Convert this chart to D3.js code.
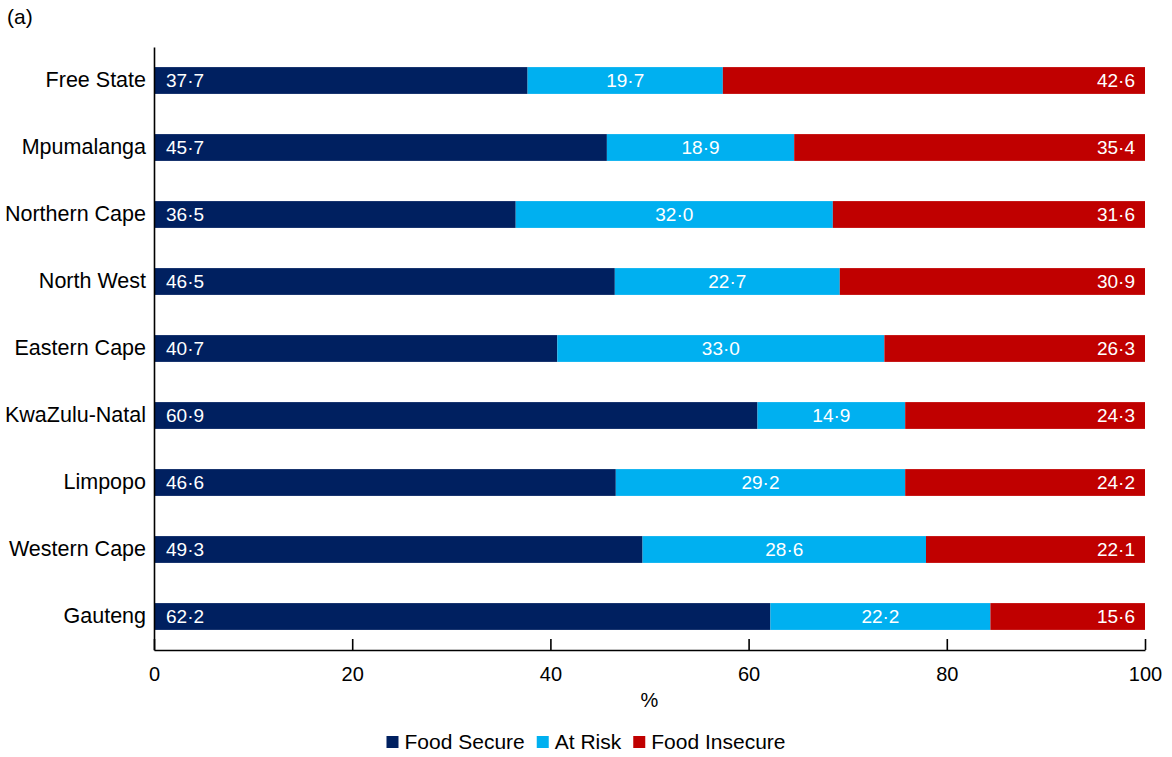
<!DOCTYPE html>
<html>
<head>
<meta charset="utf-8">
<script src="https://cdn.jsdelivr.net/npm/d3@7"></script>
<style>
  body { margin: 0; background: #fff; }
  svg text { font-family: "Liberation Sans", Arial, sans-serif; }
</style>
</head>
<body>
<div id="chart"></div>
<script>
// provinces, top to bottom
const provinces = ["Free State", "Mpumalanga", "Northern Cape", "North West", "Eastern Cape",
                   "KwaZulu-Natal", "Limpopo", "Western Cape", "Gauteng"];
const foodSecure   = [37.7, 45.7, 36.5, 46.5, 40.7, 60.9, 46.6, 49.3, 62.2];
const atRisk       = [19.7, 18.9, 32.0, 22.7, 33.0, 14.9, 29.2, 28.6, 22.2];
const foodInsecure = [42.6, 35.4, 31.6, 30.9, 26.3, 24.3, 24.2, 22.1, 15.6];
const seriesNames  = ["Food Secure", "At Risk", "Food Insecure"];
const xTicks = [0, 20, 40, 60, 80, 100];

const colors = ["#002060", "#00B0F0", "#C00000"];

const W = 1172, H = 757;
const margin = { top: 47, right: 27, bottom: 107, left: 154 },
      width  = W - margin.left - margin.right,
      height = H - margin.top - margin.bottom;

const table = provinces.map((p, i) => ({
    province: p,
    "Food Secure": foodSecure[i],
    "At Risk": atRisk[i],
    "Food Insecure": foodInsecure[i]
}));
const stacked = d3.stack().keys(seriesNames)(table);

const svg = d3.select("#chart").append("svg")
    .attr("width", W).attr("height", H);

svg.append("text")
   .attr("x", 7).attr("y", 24)
   .style("font-size", "21px")
   .text("(a)");

const g = svg.append("g").attr("transform", `translate(${margin.left},${margin.top})`);

const x = d3.scaleLinear().domain([0, 100]).range([0, width]).clamp(true);
const y = d3.scaleBand().domain(provinces).range([0, height]).paddingInner(0.6).paddingOuter(0.3);

// bars
const layer = g.selectAll(".layer")
    .data(stacked)
    .enter().append("g")
    .attr("class", "layer")
    .attr("fill", (d, i) => colors[i]);

layer.selectAll("rect")
    .data(d => d)
    .enter().append("rect")
    .attr("x", d => x(d[0]))
    .attr("y", d => y(d.data.province))
    .attr("width", d => x(d[1]) - x(d[0]))
    .attr("height", y.bandwidth());

// value labels
const fmt = v => d3.format(".1f")(v).replace(".", "\u00B7");
stacked.forEach((s, si) => {
    g.selectAll(".lbl" + si)
     .data(s)
     .enter().append("text")
     .attr("x", d => si === 0 ? x(d[0]) + 12 : si === 2 ? x(d[1]) - 10 : (x(d[0]) + x(d[1])) / 2)
     .attr("y", d => y(d.data.province) + y.bandwidth() / 2)
     .attr("dy", "0.35em")
     .attr("text-anchor", si === 0 ? "start" : si === 2 ? "end" : "middle")
     .attr("fill", "#fff")
     .style("font-size", "19px")
     .text(d => fmt(d[1] - d[0]));
});

// y axis
const yAxis = g.append("g")
   .call(d3.axisLeft(y).tickSize(0).tickPadding(8));
yAxis.select(".domain").attr("stroke", "#000").attr("stroke-width", 1.6);
yAxis.selectAll("text").style("font-size", "21.5px").attr("fill", "#000");

// x axis
const xAxis = g.append("g")
   .attr("transform", `translate(0,${height})`)
   .call(d3.axisBottom(x).tickValues(xTicks).tickSizeInner(-11).tickSizeOuter(0).tickPadding(10));
xAxis.select(".domain").attr("stroke", "#000").attr("stroke-width", 1.6);
xAxis.selectAll(".tick line").attr("stroke", "#000").attr("stroke-width", 1.6);
xAxis.selectAll(".tick text").style("font-size", "20px").attr("fill", "#000").attr("dy", "1.05em");

g.append("text")
 .attr("x", width / 2)
 .attr("y", height + 57)
 .attr("text-anchor", "middle")
 .style("font-size", "20px")
 .text("%");

// legend
const legend = svg.append("g");
let lx = 0;
seriesNames.forEach((name, i) => {
    const item = legend.append("g").attr("transform", `translate(${lx},0)`);
    item.append("rect").attr("x", 0).attr("y", -6).attr("width", 12).attr("height", 12).attr("fill", colors[i]);
    const t = item.append("text").attr("x", 18).attr("dy", "0.35em")
        .style("font-size", "21px").text(name);
    lx += 18 + t.node().getComputedTextLength() + 12;
});
const legendW = lx - 12;
legend.attr("transform", `translate(${(W - legendW) / 2},742)`);
</script>
</body>
</html>
